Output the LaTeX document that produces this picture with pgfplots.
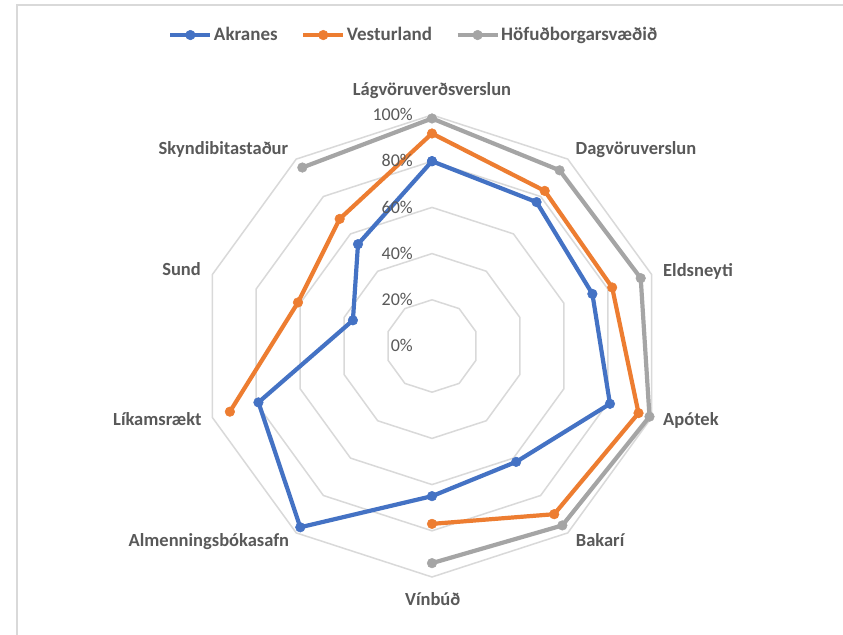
\documentclass[border=0pt]{standalone}
\usepackage{pgfplots}
\pgfplotsset{compat=1.18}
\usepackage{fontspec}
\setmainfont{Carlito}
\definecolor{cA}{HTML}{4472C4}
\definecolor{cV}{HTML}{ED7D31}
\definecolor{cH}{HTML}{A5A5A5}
\definecolor{gridc}{HTML}{D9D9D9}
\definecolor{txt}{HTML}{595959}
\begin{document}
\begin{tikzpicture}
\path[use as bounding box] (-432bp,-289bp) rectangle (411bp,346bp);
\fill[white] (-432bp,-289bp) rectangle (411bp,346bp);
\draw[gridc, line width=2bp] (-415bp,-300bp) -- (-415bp,341bp) -- (420bp,341bp);
\begin{axis}[
  at={(-432bp,-289bp)}, anchor=south west,
  x=231bp, y=231bp,
  xmin=-1.87013, xmax=1.779221, ymin=-1.251082, ymax=1.497835,
  hide axis, clip=false,
  legend columns=3,
  legend style={draw=none, fill=none, at={(0.4905,0.9448)}, anchor=center,
    font=\fontsize{19bp}{21bp}\selectfont\bfseries, text=txt,
    nodes={inner sep=1.5bp},
    /tikz/every odd column/.append style={column sep=0bp},
    /tikz/every even column/.append style={column sep=22bp}},
  legend image code/.code={
    \draw[mark repeat=2, mark phase=2] plot coordinates {(0bp,0bp) (20bp,0bp) (40bp,0bp)};
  },
]
% grid rings (radar polygons)
\addplot[gridc, line width=1.5bp, no marks, data cs=polar, forget plot] coordinates {(90,0.2) (54,0.2) (18,0.2) (-18,0.2) (-54,0.2) (-90,0.2) (-126,0.2) (-162,0.2) (-198,0.2) (-234,0.2) (-270,0.2)};
\addplot[gridc, line width=1.5bp, no marks, data cs=polar, forget plot] coordinates {(90,0.4) (54,0.4) (18,0.4) (-18,0.4) (-54,0.4) (-90,0.4) (-126,0.4) (-162,0.4) (-198,0.4) (-234,0.4) (-270,0.4)};
\addplot[gridc, line width=1.5bp, no marks, data cs=polar, forget plot] coordinates {(90,0.6) (54,0.6) (18,0.6) (-18,0.6) (-54,0.6) (-90,0.6) (-126,0.6) (-162,0.6) (-198,0.6) (-234,0.6) (-270,0.6)};
\addplot[gridc, line width=1.5bp, no marks, data cs=polar, forget plot] coordinates {(90,0.8) (54,0.8) (18,0.8) (-18,0.8) (-54,0.8) (-90,0.8) (-126,0.8) (-162,0.8) (-198,0.8) (-234,0.8) (-270,0.8)};
\addplot[gridc, line width=1.5bp, no marks, data cs=polar, forget plot] coordinates {(90,1.0) (54,1.0) (18,1.0) (-18,1.0) (-54,1.0) (-90,1.0) (-126,1.0) (-162,1.0) (-198,1.0) (-234,1.0) (-270,1.0)};
% Akranes
\addplot[cA, line width=4.2bp, mark=*, mark size=4.8bp, mark options={solid, line width=0.5bp, fill=cA}, data cs=polar] coordinates {
(90,0.80) (54,0.77) (18,0.73) (-18,0.81) (-54,0.62) (-90,0.65) (-126,0.97) (-162,0.79) (-198,0.36) (-234,0.545) (-270,0.80)};
\addlegendentry{Akranes}
% Vesturland
\addplot[cV, line width=4.2bp, mark=*, mark size=4.8bp, mark options={solid, line width=0.5bp, fill=cV}, data cs=polar] coordinates {
(-90,0.77) (-54,0.90) (-18,0.94) (18,0.82) (54,0.83) (90,0.92) (126,0.68) (162,0.61) (198,0.92)};
\addlegendentry{Vesturland}
% Hofudborgarsvaedid
\addplot[cH, line width=4.2bp, mark=*, mark size=4.8bp, mark options={solid, line width=0.5bp, fill=cH}, data cs=polar] coordinates {
(-90,0.94) (-54,0.96) (-18,0.99) (18,0.95) (54,0.94) (90,0.985) (126,0.955)};
\addlegendentry{Höfuðborgarsvæðið}
\end{axis}
% radial tick labels
\begin{scope}[every node/.style={text=txt, font=\fontsize{18bp}{20bp}\selectfont, inner sep=0pt, anchor=base east}]
\node at (-19bp,-5.7bp) {0\%};
\node at (-19bp,40.5bp) {20\%};
\node at (-19bp,86.7bp) {40\%};
\node at (-19bp,132.9bp) {60\%};
\node at (-19bp,179.1bp) {80\%};
\node at (-19bp,225.3bp) {100\%};
\end{scope}
% category labels
\begin{scope}[every node/.style={text=txt, font=\fontsize{18.5bp}{20bp}\selectfont\bfseries, inner sep=0pt}]
\node[anchor=base] at (0bp,250bp) {Lágvöruverðsverslun};
\node[anchor=base west] at (143.5bp,191bp) {Dagvöruverslun};
\node[anchor=base west] at (231bp,69bp) {Eldsneyti};
\node[anchor=base west] at (231bp,-79bp) {Apótek};
\node[anchor=base west] at (143.7bp,-200.7bp) {Bakarí};
\node[anchor=base] at (0.7bp,-259bp) {Vínbúð};
\node[anchor=base east] at (-142.7bp,-200.7bp) {Almenningsbókasafn};
\node[anchor=base east] at (-230.3bp,-79bp) {Líkamsrækt};
\node[anchor=base east] at (-231bp,70bp) {Sund};
\node[anchor=base east] at (-143.7bp,191.7bp) {Skyndibitastaður};
\end{scope}
\end{tikzpicture}
\end{document}
